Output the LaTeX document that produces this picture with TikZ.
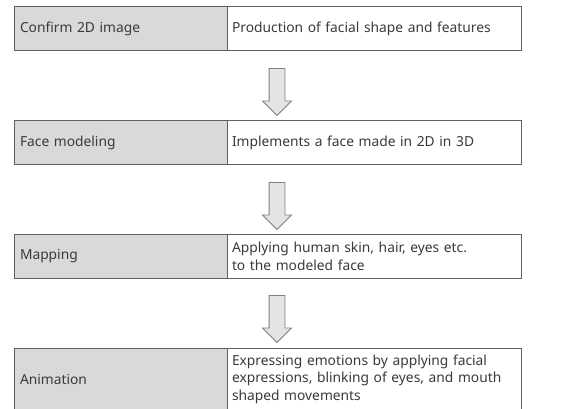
\documentclass[tikz,border=0pt]{standalone}
\usepackage{fontspec}
\setmainfont{Noto Sans}
\usetikzlibrary{positioning,shapes.arrows,calc}
\definecolor{cellgray}{HTML}{D9D9D9}
\definecolor{linegray}{HTML}{606060}
\definecolor{arrowgray}{HTML}{E4E4E4}
\definecolor{textgray}{HTML}{3A3A3A}
\begin{document}
\begin{tikzpicture}[x=1pt,y=1pt,node distance=70pt]
    \tikzstyle{stage}=[draw=linegray, fill=cellgray, line width=1pt, outer sep=0pt, minimum width=213pt, text width=201pt, inner xsep=6pt, align=left, text=textgray, font=\fontsize{13.8}{17.5}\selectfont]
    \tikzstyle{desc}=[draw=linegray, fill=white, line width=1pt, outer sep=0pt, minimum width=294pt, text width=284pt, inner xsep=5pt, align=left, text=textgray, font=\fontsize{13.8}{17.5}\selectfont]
    \tikzstyle{down}=[single arrow, draw=gray, fill=arrowgray, line width=0.8pt, shape border rotate=270, minimum height=47pt, minimum width=28pt, single arrow head extend=6.5pt, inner sep=7.5pt]

    \useasboundingbox (0,0) rectangle (579,-409);
    \clip (0,0) rectangle (579,-409);

    \node[stage, minimum height=44pt, anchor=north west] (confirm) at (14,-7) {Confirm 2D image};
    \node[desc, minimum height=44pt, right=0pt of confirm] (production) {Production of facial shape and features};

    \node[stage, minimum height=44pt, below=of confirm.south west, anchor=north west] (modeling) {Face modeling};
    \node[desc, minimum height=44pt, right=0pt of modeling] (implement) {Implements a face made in 2D in 3D};

    \node[stage, minimum height=43pt, below=of modeling.south west, anchor=north west] (mapping) {Mapping};
    \node[desc, minimum height=43pt, right=0pt of mapping] (texture) {Applying human skin, hair, eyes etc.\\to the modeled face};

    \node[stage, minimum height=62pt, below=of mapping.south west, anchor=north west] (animation) {Animation};
    \node[desc, minimum height=62pt, right=0pt of animation] (expression) {Expressing emotions by applying facial\\expressions, blinking of eyes, and mouth\\shaped movements};

    % block arrows between the rows
    \foreach \a/\b in {production/implement, implement/texture, texture/expression}
        \node[down] at ($(\a.south west)!.5!(\b.north west)+(50,-2)$) {};
\end{tikzpicture}
\end{document}
